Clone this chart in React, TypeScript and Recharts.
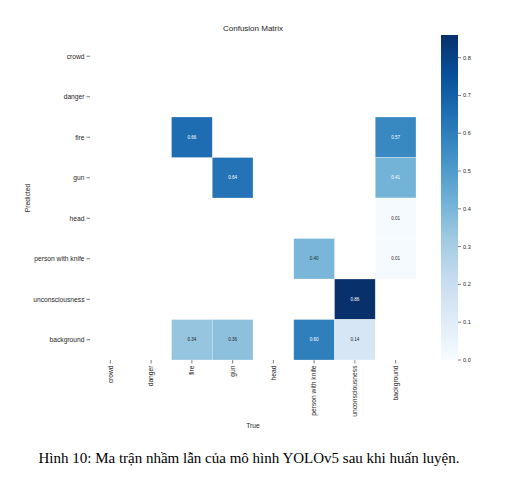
import * as React from "react";
import { Bar, BarChart, Scatter, ScatterChart, XAxis, YAxis } from "recharts";

// nhãn lớp (hàng = Predicted, cột = True)
const CLASSES = [
  "crowd",
  "danger",
  "fire",
  "gun",
  "head",
  "person with knife",
  "unconsciousness",
  "background",
];

// mỗi hàng: tỉ lệ theo cột True
const PRED_CROWD = [0, 0, 0, 0, 0, 0, 0, 0];
const PRED_DANGER = [0, 0, 0, 0, 0, 0, 0, 0];
const PRED_FIRE = [0, 0, 0.66, 0, 0, 0, 0, 0.57];
const PRED_GUN = [0, 0, 0, 0.64, 0, 0, 0, 0.41];
const PRED_HEAD = [0, 0, 0, 0, 0, 0, 0, 0.01];
const PRED_KNIFE = [0, 0, 0, 0, 0, 0.4, 0, 0.01];
const PRED_UNCON = [0, 0, 0, 0, 0, 0, 0.86, 0];
const PRED_BACKGROUND = [0, 0, 0.34, 0.36, 0, 0.6, 0.14, 0];

const MATRIX = [
  PRED_CROWD,
  PRED_DANGER,
  PRED_FIRE,
  PRED_GUN,
  PRED_HEAD,
  PRED_KNIFE,
  PRED_UNCON,
  PRED_BACKGROUND,
];

const CBAR_TICKS = [0, 0.1, 0.2, 0.3, 0.4, 0.5, 0.6, 0.7, 0.8];
const VMAX = 0.86;

// matplotlib "Blues"
const BLUES = ["#f7fbff", "#deebf7", "#c6dbef", "#9ecae1", "#6baed6", "#4292c6", "#2171b5", "#08519c", "#08306b"];

const hexToRgb = (h: string) => [1, 3, 5].map((i) => parseInt(h.slice(i, i + 2), 16));

function blues(t: number): number[] {
  const c = Math.max(0, Math.min(1, t)) * (BLUES.length - 1);
  const i = Math.min(Math.floor(c), BLUES.length - 2);
  const f = c - i;
  const a = hexToRgb(BLUES[i]);
  const b = hexToRgb(BLUES[i + 1]);
  return a.map((v, k) => Math.round(v + (b[k] - v) * f));
}

function luminance([r, g, b]: number[]) {
  const lin = (v: number) => {
    const s = v / 255;
    return s <= 0.03928 ? s / 12.92 : Math.pow((s + 0.055) / 1.055, 2.4);
  };
  return 0.2126 * lin(r) + 0.7152 * lin(g) + 0.0722 * lin(b);
}

const cells = MATRIX.flatMap((row, r) =>
  row.map((value, c) => ({ x: c, y: r, value })).filter((d) => d.value > 0)
);

const FONT = '"Liberation Sans", Arial, sans-serif';
const TEXT = "#262626";

const CHART_W = 430;
const CHART_H = 440;
const MARGIN = { top: 36, right: 14, bottom: 0, left: 0 };
const Y_AXIS_W = 90;
const X_AXIS_H = 80;
const PLOT_W = CHART_W - MARGIN.left - MARGIN.right - Y_AXIS_W;
const PLOT_H = CHART_H - MARGIN.top - MARGIN.bottom - X_AXIS_H;
const CELL_W = PLOT_W / CLASSES.length;
const CELL_H = PLOT_H / CLASSES.length;

function HeatCell(props: any) {
  const { cx, cy, payload } = props;
  const rgb = blues(payload.value / VMAX);
  const fill = `rgb(${rgb.join(",")})`;
  const textFill = luminance(rgb) > 0.41 ? TEXT : "#ffffff";
  return (
    <g>
      <rect
        x={cx - CELL_W / 2}
        y={cy - CELL_H / 2}
        width={CELL_W}
        height={CELL_H}
        fill={fill}
        stroke="#ffffff"
        strokeOpacity={0.45}
        strokeWidth={0.6}
      />
      <text x={cx} y={cy} dy="0.35em" textAnchor="middle" fontSize={4.6} fontFamily={FONT} fill={textFill}>
        {payload.value.toFixed(2)}
      </text>
    </g>
  );
}

function XTick(props: any) {
  const { x, y, payload } = props;
  return (
    <g transform={`translate(${x},${y})`}>
      <text transform="rotate(-90)" x={0} y={0} dy="0.35em" textAnchor="end" fontSize={6.7} fontFamily={FONT} fill={TEXT}>
        {CLASSES[payload.value]}
      </text>
    </g>
  );
}

function YTick(props: any) {
  const { x, y, payload } = props;
  return (
    <text x={x} y={y} dy="0.35em" textAnchor="end" fontSize={6.7} fontFamily={FONT} fill={TEXT}>
      {CLASSES[payload.value]}
    </text>
  );
}

function CbarTick(props: any) {
  const { x, y, payload } = props;
  return (
    <text x={x} y={y} dy="0.35em" textAnchor="start" fontSize={5.6} fontFamily={FONT} fill={TEXT}>
      {payload.value.toFixed(1)}
    </text>
  );
}

const abs: React.CSSProperties = { position: "absolute", fontFamily: FONT, color: TEXT, whiteSpace: "nowrap" };

export default function App() {
  const idx = CLASSES.map((_, i) => i);
  return (
    <div style={{ position: "absolute", left: 0, top: 0, width: 524, height: 483, background: "#fff" }}>
      <div style={{ ...abs, left: 90, width: PLOT_W, top: 25, fontSize: 8, lineHeight: "8px", textAlign: "center" }}>
        Confusion Matrix
      </div>

      <div style={{ position: "absolute", left: 0, top: 0 }}>
        <ScatterChart width={CHART_W} height={CHART_H} margin={MARGIN}>
          <XAxis
            type="number"
            dataKey="x"
            domain={[-0.5, CLASSES.length - 0.5]}
            ticks={idx}
            interval={0}
            height={X_AXIS_H}
            axisLine={false}
            tickSize={3.5}
            tickLine={{ stroke: TEXT, strokeWidth: 0.6 }}
            tick={<XTick />}
          />
          <YAxis
            type="number"
            dataKey="y"
            reversed
            domain={[-0.5, CLASSES.length - 0.5]}
            ticks={idx}
            interval={0}
            width={Y_AXIS_W}
            axisLine={false}
            tickSize={3.5}
            tickLine={{ stroke: TEXT, strokeWidth: 0.6 }}
            tick={<YTick />}
          />
          <Scatter data={cells} shape={<HeatCell />} isAnimationActive={false} />
        </ScatterChart>
      </div>

      <div style={{ ...abs, left: 90, width: PLOT_W, top: 421.5, fontSize: 6.7, lineHeight: "7px", textAlign: "center" }}>
        True
      </div>
      <div
        style={{
          ...abs,
          left: 27,
          top: 198,
          fontSize: 6.7,
          lineHeight: "7px",
          transform: "translate(-50%, -50%) rotate(-90deg)",
        }}
      >
        Predicted
      </div>

      {/* colorbar */}
      <div style={{ position: "absolute", left: 441, top: 30 }}>
        <BarChart
          width={60}
          height={335}
          data={[{ name: "cbar", v: VMAX }]}
          margin={{ top: 5, right: 0, bottom: 5, left: 0 }}
          barCategoryGap={0}
        >
          <defs>
            <linearGradient id="bluesBar" x1="0" y1="1" x2="0" y2="0">
              {BLUES.map((c, i) => (
                <stop key={c} offset={i / (BLUES.length - 1)} stopColor={c} />
              ))}
            </linearGradient>
          </defs>
          <XAxis dataKey="name" hide />
          <YAxis
            orientation="right"
            type="number"
            domain={[0, VMAX]}
            ticks={CBAR_TICKS}
            interval={0}
            width={43}
            axisLine={false}
            tickSize={3}
            tickMargin={2}
            tickLine={{ stroke: TEXT, strokeWidth: 0.6 }}
            tick={<CbarTick />}
          />
          <Bar dataKey="v" fill="url(#bluesBar)" isAnimationActive={false} />
        </BarChart>
      </div>

      <div
        style={{
          position: "absolute",
          left: 0,
          width: 498,
          top: 450.5,
          fontFamily: '"Liberation Serif", "Times New Roman", serif',
          fontSize: 15,
          lineHeight: "15px",
          textAlign: "center",
          color: "#000",
          whiteSpace: "nowrap",
        }}
      >
        Hình 10: Ma trận nhầm lẫn của mô hình YOLOv5 sau khi huấn luyện.
      </div>
    </div>
  );
}
